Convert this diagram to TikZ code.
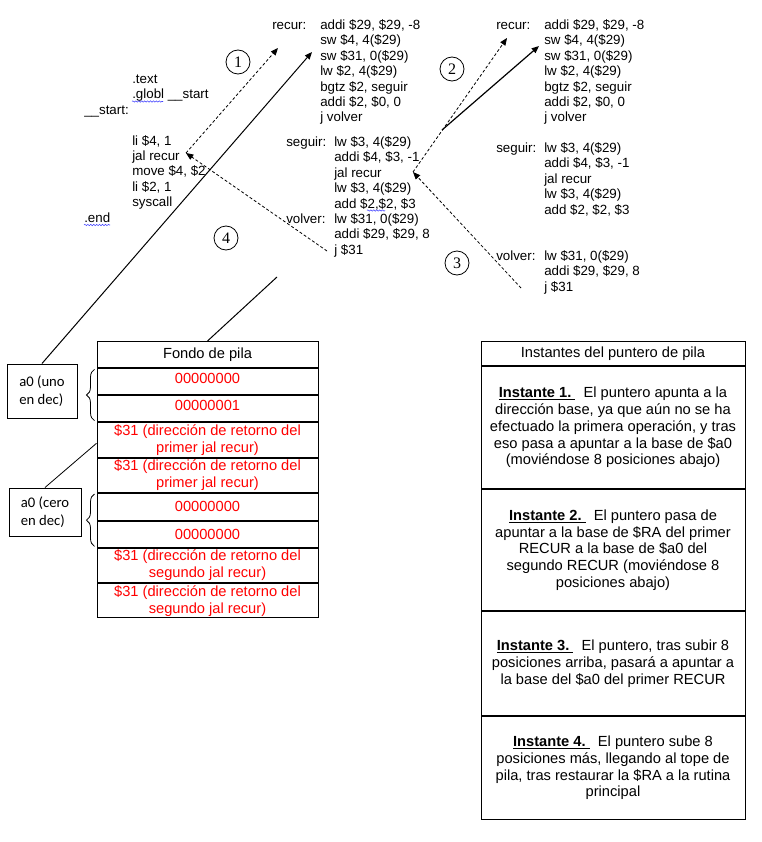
\documentclass[tikz,border=0pt]{standalone}
\usepackage{fontspec}
\setmainfont{Liberation Sans}
\newfontfamily\calibfont{Carlito}
\newfontfamily\timesfont{Liberation Serif}
\usetikzlibrary{positioning,arrows.meta,decorations.pathreplacing,decorations.pathmorphing}

\definecolor{squiggle}{rgb}{0.25, 0.25, 1}
\newcommand{\codefont}{\fontsize{10}{11.55}\selectfont}
\newcommand{\cellfont}{\fontsize{11}{12.75}\selectfont}
\newcommand{\asmblock}[1]{\begin{tabular}[t]{@{}p{36pt}@{}l@{}}#1\end{tabular}}
\newcommand{\instante}[1]{\underline{\textbf{Instante #1}\ }\ }

\tikzset{
  asm/.style={inner sep=0pt, anchor=base west, font=\codefont},
  numcirc/.style={draw, circle, line width=0.6pt, minimum size=18pt, inner sep=0pt, font=\timesfont\fontsize{12}{12}\selectfont},
  jump/.style={line width=0.6pt, dash pattern=on 2.2pt off 1.6pt, -{Triangle[length=5.5pt,width=4.5pt]}},
  ret/.style={line width=0.9pt, -{Triangle[length=5.5pt,width=4.5pt]}},
  pilacell/.style={draw, line width=0.75pt, minimum width=165.75pt, inner sep=0pt, align=center, font=\cellfont, text=red},
  pilatwo/.style={pilacell, inner ysep=-4pt},
  instcell/.style={draw, line width=0.75pt, minimum width=198pt, inner sep=0pt, align=center, font=\fontsize{11}{12.6}\selectfont},
  a0box/.style={draw, line width=0.75pt, inner sep=0pt, align=left, font=\calibfont\fontsize{11}{13.5}\selectfont},
  wavy/.style={squiggle, line width=0.4pt, decorate, decoration={snake, amplitude=0.5pt, segment length=2.2pt}}
}

\begin{document}
\begin{tikzpicture}[x=0.75pt, y=-0.75pt]
        \useasboundingbox (0,0) rectangle (762,842);

        % programa principal
        \node[asm] (mainsrc) at (84,83.5) {\asmblock{
            & .text\\
            & .globl \_\_start\\
            \_\_start: & \\
            & \\
            & li \$4, 1\\
            & jal recur\\
            & move \$4, \$2\\
            & li \$2, 1\\
            & syscall\\
            .end & }};

        % primera llamada
        \node[asm] (recurB) at (272,29.5) {\asmblock{
            recur: & addi \$29, \$29, -8\\
            & sw \$4, 4(\$29)\\
            & sw \$31, 0(\$29)\\
            & lw \$2, 4(\$29)\\
            & bgtz \$2, seguir\\
            & addi \$2, \$0, 0\\
            & j volver}};
        \node[asm] (seguirB) at (286,146.5) {\asmblock{
            seguir: & lw \$3, 4(\$29)\\
            & addi \$4, \$3, -1\\
            & jal recur\\
            & lw \$3, 4(\$29)\\
            & add \$2,\$2, \$3\\
            volver: & lw \$31, 0(\$29)\\
            & addi \$29, \$29, 8\\
            & j \$31}};

        % segunda llamada
        \node[asm] (recurC) at (496,29.5) {\asmblock{
            recur: & addi \$29, \$29, -8\\
            & sw \$4, 4(\$29)\\
            & sw \$31, 0(\$29)\\
            & lw \$2, 4(\$29)\\
            & bgtz \$2, seguir\\
            & addi \$2, \$0, 0\\
            & j volver}};
        \node[asm] (seguirC) at (496,152.5) {\asmblock{
            seguir: & lw \$3, 4(\$29)\\
            & addi \$4, \$3, -1\\
            & jal recur\\
            & lw \$3, 4(\$29)\\
            & add \$2, \$2, \$3}};
        \node[asm] (volverC) at (496,260.5) {\asmblock{
            volver: & lw \$31, 0(\$29)\\
            & addi \$29, \$29, 8\\
            & j \$31}};

        % subrayado del corrector
        \draw[wavy] (132,101.5) -- (163,101.5);
        \draw[wavy] (84,225) -- (110,225);
        \draw[wavy] (367,210.5) -- (385,210.5);

        % pila
        \node[pilacell, text=black, minimum height=19.5pt, anchor=north] (s0) at (207.5,341) {Fondo de pila};
        \node[pilacell, minimum height=19.5pt, text depth=5pt, below=0pt of s0] (s1) {00000000};
        \node[pilacell, minimum height=19.5pt, text depth=4pt, below=0pt of s1] (s2) {00000001};
        \node[pilatwo, minimum height=26pt, below=0pt of s2] (s3) {\$31 (dirección de retorno del\\primer jal recur)};
        \node[pilatwo, minimum height=25.5pt, below=0pt of s3] (s4) {\$31 (dirección de retorno del\\primer jal recur)};
        \node[pilacell, minimum height=20.25pt, below=0pt of s4] (s5) {00000000};
        \node[pilacell, minimum height=19.5pt, below=0pt of s5] (s6) {00000000};
        \node[pilatwo, minimum height=26pt, below=0pt of s6] (s7) {\$31 (dirección de retorno del\\segundo jal recur)};
        \node[pilatwo, minimum height=25.5pt, below=0pt of s7] (s8) {\$31 (dirección de retorno del\\segundo jal recur)};

        \node[a0box, minimum width=52.5pt, minimum height=40.5pt] (a0uno) at (42,391) {a0 (uno\\en dec)};
        \node[a0box, minimum width=54pt, minimum height=36pt] (a0cero) at (45,512) {a0 (cero\\en dec)};

        \draw[line width=0.6pt, decorate, decoration={brace, amplitude=6pt}]
            ([xshift=-1.5pt,yshift=1pt]s2.south west) -- ([xshift=-1.5pt,yshift=-1pt]s1.north west);
        \draw[line width=0.6pt, decorate, decoration={brace, amplitude=6pt}]
            ([xshift=-1.5pt,yshift=1pt]s6.south west) -- ([xshift=-1.5pt,yshift=-1pt]s5.north west);

        % instantes
        \node[instcell, minimum height=18pt, anchor=north] (t0) at (613,341) {Instantes del puntero de pila};
        \node[instcell, minimum height=91.5pt, below=0pt of t0] (t1) {\instante{1.} El puntero apunta a la\\dirección base, ya que aún no se ha\\efectuado la primera operación, y tras\\eso pasa a apuntar a la base de \$a0\\(moviéndose 8 posiciones abajo)};
        \node[instcell, minimum height=91pt, below=0pt of t1] (t2) {\instante{2.} El puntero pasa de\\apuntar a la base de \$RA del primer\\RECUR a la base de \$a0 del\\segundo RECUR (moviéndose 8\\posiciones abajo)};
        \node[instcell, minimum height=77.5pt, below=0pt of t2] (t3) {\instante{3.} El puntero, tras subir 8\\posiciones arriba, pasará a apuntar a\\la base del \$a0 del primer RECUR};
        \node[instcell, minimum height=77.5pt, below=0pt of t3] (t4) {\instante{4.} El puntero sube 8\\posiciones más, llegando al tope de\\pila, tras restaurar la \$RA a la rutina\\principal};

        % puntos de salto
        \coordinate (jalmain) at (186,153);
        \coordinate (recurBtag) at (278,48);
        \coordinate (swB) at (312,52);
        \coordinate (jretB) at (327,251);
        \coordinate (jalB) at (413,172);
        \coordinate (recurCtag) at (507,38);
        \coordinate (bgtzB) at (442,130);
        \coordinate (swC) at (539,46);
        \coordinate (jretC) at (521,288);
        \coordinate (pilatop) at (277,277);

        \draw[jump] (jalmain) -- (recurBtag);
        \draw[jump] (jretB) -- (jalmain);
        \draw[jump] (jalB) -- (recurCtag);
        \draw[jump] (jretC) -- (jalB);
        \draw[ret] (bgtzB) -- (swC);
        \draw[line width=0.75pt, -{Triangle[length=5.5pt,width=4.5pt]}] (a0uno.north) -- (swB);
        \draw[line width=0.75pt] (s0.north) -- (pilatop);
        \draw[line width=0.6pt] (a0cero.north) -- ([yshift=-2.6pt]s3.west);

        \node[numcirc] (c1) at (238,62) {1};
        \node[numcirc] (c2) at (452,69) {2};
        \node[numcirc] (c3) at (457,263) {3};
        \node[numcirc] (c4) at (226,238) {4};
\end{tikzpicture}
\end{document}
